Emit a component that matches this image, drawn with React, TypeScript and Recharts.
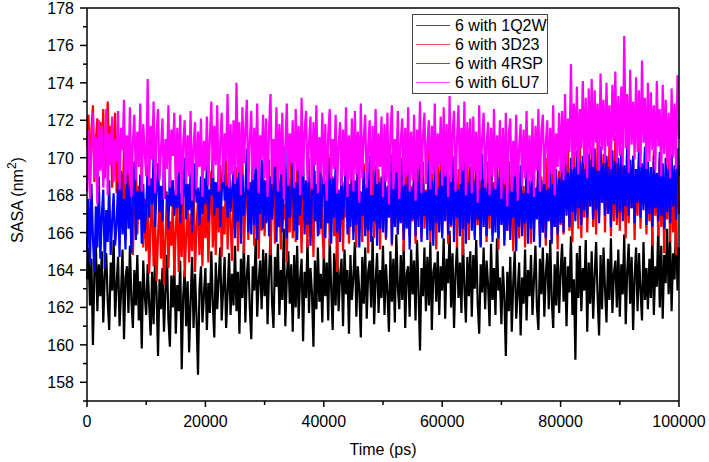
import { LineChart, Line, XAxis, YAxis, ReferenceLine } from "recharts"

// SASA time series, one value every 250 ps (0 .. 100000 ps)
const step = 250

const sasa1Q2W = [
  163.5, 165.2, 162.1, 164.6, 160.0, 163.9, 165.4, 161.8, 164.3, 162.6, 165.0, 161.2, 163.7, 164.9, 162.3, 160.8, 164.4, 162.9, 165.6, 161.5,
  163.2, 164.7, 161.0, 162.8, 165.1, 160.3, 163.6, 164.2, 161.7, 165.3, 162.4, 160.9, 164.0, 162.1, 164.8, 161.3, 163.4, 159.8, 164.5, 162.7,
  161.6, 164.3, 162.2, 160.5, 163.9, 161.1, 164.6, 162.8, 159.4, 163.5, 161.9, 164.1, 160.7, 162.9, 164.8, 161.4, 159.9, 163.7, 162.0, 164.4,
  160.6, 163.2, 161.8, 164.5, 158.7, 162.6, 164.0, 161.0, 163.4, 159.6, 162.3, 164.7, 160.9, 163.8, 161.5, 158.4, 163.0, 164.2, 161.2, 162.7,
  164.1, 160.8, 163.3, 161.7, 165.0, 162.2, 160.4, 164.4, 161.9, 163.6, 165.2, 161.3, 163.0, 164.7, 160.9, 162.8, 164.9, 161.6, 163.8, 162.1,
  165.3, 161.8, 163.9, 160.6, 164.6, 162.5, 165.5, 161.2, 163.7, 164.8, 162.0, 160.3, 164.2, 162.9, 165.7, 161.5, 163.4, 164.5, 161.9, 165.1,
  162.6, 164.9, 161.1, 163.8, 165.9, 162.3, 160.9, 164.7, 163.1, 165.4, 161.6, 164.0, 162.4, 166.2, 161.0, 163.6, 165.0, 162.2, 164.3, 160.7,
  164.8, 162.0, 165.3, 161.4, 163.5, 164.6, 160.2, 163.9, 162.5, 165.6, 161.7, 164.1, 162.8, 159.9, 164.5, 161.9, 165.2, 162.3, 163.8, 161.2,
  165.0, 162.6, 164.4, 161.3, 165.7, 163.0, 160.8, 164.9, 162.1, 165.4, 161.8, 163.7, 164.6, 161.0, 165.1, 162.7, 164.0, 160.6, 164.8, 162.4,
  163.6, 165.5, 161.5, 164.2, 162.9, 160.4, 164.7, 162.2, 165.2, 161.4, 163.9, 164.5, 162.0, 165.8, 161.1, 163.4, 164.9, 161.7, 164.0, 162.5,
  165.3, 161.6, 164.3, 162.8, 160.7, 165.0, 162.3, 164.6, 161.2, 165.9, 163.1, 161.9, 164.8, 162.4, 165.4, 160.9, 163.8, 164.2, 161.5, 165.1,
  162.7, 164.5, 161.3, 165.6, 163.0, 159.7, 164.1, 162.6, 165.2, 161.8, 164.7, 162.1, 165.5, 160.8, 163.9, 164.4, 162.3, 165.0, 161.6, 164.2,
  162.9, 165.7, 161.4, 164.6, 163.3, 166.1, 162.0, 164.9, 160.9, 163.8, 165.3, 162.5, 164.4, 161.7, 165.8, 163.1, 161.2, 164.7, 162.6, 165.0,
  161.5, 164.8, 163.0, 165.6, 162.2, 160.6, 164.3, 162.8, 165.2, 161.9, 164.5, 163.2, 161.0, 165.4, 162.4, 164.1, 161.6, 165.7, 162.9, 163.6,
  161.1, 164.2, 162.5, 159.4, 163.9, 161.8, 164.7, 160.7, 163.3, 165.0, 161.4, 162.8, 164.4, 160.5, 163.6, 162.2, 165.1, 161.3, 164.0, 162.6,
  164.8, 161.6, 163.5, 165.3, 162.0, 160.8, 164.6, 162.7, 165.2, 161.5, 163.8, 164.9, 161.9, 165.6, 162.4, 160.9, 164.3, 162.1, 165.0, 161.7,
  163.9, 165.4, 162.3, 164.7, 161.0, 164.2, 162.8, 165.8, 161.6, 163.5, 159.2, 164.9, 162.5, 165.3, 161.8, 164.1, 162.9, 165.6, 160.7, 164.4,
  162.2, 165.0, 161.4, 163.7, 165.5, 162.6, 160.5, 164.8, 161.9, 165.2, 163.0, 161.2, 164.6, 162.4, 165.7, 161.7, 163.8, 164.5, 162.0, 165.1,
  161.5, 164.3, 162.7, 165.9, 161.1, 163.9, 165.4, 162.2, 164.7, 160.8, 163.6, 165.2, 161.8, 164.9, 162.9, 161.3, 165.5, 162.4, 164.1, 161.9,
  164.6, 162.5, 166.0, 161.6, 164.2, 163.1, 166.4, 162.0, 165.3, 161.4, 164.8, 163.3, 166.2, 162.7, 165.6, 161.8, 164.9, 163.5, 166.7, 162.9,
  165.2,
]

const sasa3D23 = [
  170.6, 172.3, 169.2, 171.5, 172.8, 168.7, 171.0, 172.1, 169.6, 171.9, 170.2, 172.6, 168.9, 171.3, 173.0, 169.8, 171.7, 168.4, 170.9, 172.4,
  168.1, 170.4, 166.5, 169.2, 167.0, 170.8, 165.6, 168.3, 169.5, 166.2, 168.9, 164.8, 167.6, 169.9, 165.9, 168.5, 166.7, 170.1, 165.2, 167.8,
  165.0, 167.6, 163.8, 166.4, 168.0, 164.2, 166.9, 163.4, 165.8, 167.9, 164.6, 167.2, 163.2, 165.7, 168.2, 164.1, 166.6, 165.3, 167.7, 163.7,
  166.1, 168.0, 163.9, 166.9, 164.7, 168.4, 163.6, 165.8, 167.5, 164.4, 167.0, 165.0, 168.6, 163.9, 166.3, 167.8, 164.8, 167.3, 164.2, 168.1,
  165.7, 168.4, 164.4, 167.2, 169.3, 165.2, 167.8, 164.8, 168.6, 166.0, 169.6, 164.7, 167.4, 165.9, 170.0, 165.1, 168.1, 166.4, 164.5, 168.8,
  166.2, 169.5, 165.0, 168.0, 166.8, 170.2, 164.9, 167.5, 169.0, 165.6, 168.4, 166.5, 170.4, 165.3, 167.9, 169.3, 164.6, 168.2, 166.1, 169.7,
  165.8, 168.7, 166.6, 169.9, 164.8, 167.6, 168.9, 165.4, 170.3, 166.3, 168.1, 165.1, 169.4, 166.7, 167.5, 164.4, 168.6, 166.0, 170.1, 165.7,
  168.3, 165.5, 169.6, 166.4, 167.8, 164.9, 169.1, 166.9, 168.0, 165.2, 170.0, 166.1, 168.5, 164.7, 169.3, 166.6, 167.7, 165.9, 169.8, 166.2,
  164.6, 168.8, 166.5, 170.2, 165.3, 167.4, 169.0, 165.8, 168.2, 163.9, 167.9, 166.3, 169.5, 165.0, 168.7, 166.8, 170.5, 165.4, 167.6, 169.2,
  166.0, 168.6, 165.2, 170.4, 166.7, 167.8, 165.5, 169.7, 166.2, 168.3, 164.9, 169.1, 167.0, 170.6, 165.7, 168.0, 166.4, 169.4, 165.1, 168.9,
  166.8, 169.8, 165.6, 168.4, 167.2, 170.3, 165.3, 168.7, 166.5, 169.5, 165.9, 170.0, 166.9, 168.2, 165.0, 169.3, 166.3, 170.7, 165.8, 168.5,
  166.6, 169.0, 165.4, 170.1, 167.1, 168.6, 165.7, 169.8, 166.2, 168.3, 167.4, 170.5, 165.5, 169.2, 166.8, 168.0, 165.1, 169.6, 166.4, 170.2,
  165.9, 168.8, 166.7, 170.8, 165.4, 169.1, 166.3, 168.4, 167.0, 170.0, 165.2, 169.4, 166.6, 168.2, 164.8, 169.7, 166.1, 170.4, 165.6, 168.9,
  167.2, 169.5, 165.8, 168.6, 166.4, 170.3, 165.3, 169.0, 166.9, 168.1, 165.5, 169.8, 166.2, 170.6, 165.9, 168.7, 167.0, 169.3, 165.1, 170.0,
  166.5, 168.9, 165.6, 170.2, 166.1, 168.4, 167.3, 169.6, 165.0, 168.1, 166.8, 170.1, 165.7, 169.2, 166.3, 168.5, 165.2, 169.9, 166.7, 168.3,
  165.4, 169.4, 166.6, 168.2, 167.1, 170.4, 165.8, 169.0, 166.0, 168.7, 165.3, 170.0, 166.9, 168.5, 165.6, 169.7, 166.3, 168.8, 165.1, 169.3,
  166.4, 170.0, 165.9, 169.2, 167.3, 170.7, 166.1, 168.9, 165.5, 170.3, 167.0, 169.5, 166.2, 171.0, 165.7, 169.8, 166.8, 170.4, 166.0, 169.1,
  167.4, 170.6, 166.3, 169.7, 165.9, 171.1, 166.8, 169.3, 167.6, 170.2, 166.0, 169.9, 167.2, 170.8, 165.8, 169.4, 166.6, 171.2, 166.4, 169.6,
  166.1, 170.5, 167.0, 169.1, 165.7, 170.9, 166.5, 169.8, 167.3, 170.1, 165.6, 169.4, 166.9, 170.7, 166.2, 169.0, 167.5, 170.3, 165.9, 169.7,
  166.6, 169.2, 165.3, 170.4, 166.9, 168.8, 165.8, 170.0, 166.3, 169.5, 164.9, 168.6, 166.7, 170.2, 165.5, 169.1, 166.0, 168.4, 164.8, 170.3,
  167.0,
]

const sasa4RSP = [
  165.0, 167.8, 164.3, 168.6, 165.7, 163.9, 167.4, 165.2, 169.0, 164.6, 166.9, 168.3, 164.1, 167.2, 165.5, 168.8, 164.8, 166.6, 168.1, 165.3,
  166.4, 168.7, 164.7, 169.3, 165.9, 167.8, 165.1, 169.5, 166.2, 168.4, 164.9, 167.6, 169.8, 165.6, 168.2, 166.7, 169.1, 165.4, 168.6, 166.0,
  167.3, 169.6, 166.8, 168.9, 167.5, 170.1, 166.3, 168.2, 169.7, 167.1, 168.5, 166.6, 169.9, 167.8, 168.0, 166.2, 169.4, 167.4, 168.8, 166.9,
  168.3, 167.3, 169.5, 166.5, 168.1, 167.9, 170.0, 166.7, 168.6, 167.2, 169.2, 166.0, 167.9, 169.7, 167.6, 168.4, 166.4, 169.0, 167.0, 168.9,
  167.5, 169.6, 166.6, 168.3, 168.0, 170.2, 166.9, 168.7, 167.3, 169.4, 166.3, 168.0, 170.0, 167.7, 168.5, 166.8, 169.8, 167.1, 168.2, 169.3,
  165.7, 168.9, 166.6, 170.3, 165.4, 169.1, 166.9, 168.2, 170.5, 166.0, 168.7, 165.9, 169.6, 166.4, 170.1, 165.6, 168.4, 167.0, 169.9, 166.2,
  168.8, 166.5, 170.4, 165.8, 169.0, 166.7, 168.3, 170.2, 165.5, 168.9, 166.3, 169.7, 166.0, 168.5, 170.6, 165.7, 169.2, 166.8, 168.1, 169.8,
  166.1, 168.7, 165.6, 169.5, 166.9, 168.2, 170.1, 165.9, 168.8, 166.4, 169.3, 165.3, 168.0, 170.0, 166.6, 168.6, 165.8, 169.6, 166.2, 168.4,
  169.1, 165.7, 168.5, 166.5, 170.0, 165.4, 168.9, 166.8, 169.7, 166.0, 168.3, 165.5, 169.4, 166.7, 168.1, 170.2, 165.9, 168.6, 166.3, 169.5,
  165.6, 168.8, 166.4, 169.9, 165.2, 168.2, 166.9, 169.3, 165.8, 168.6, 166.1, 170.1, 165.5, 168.0, 166.6, 169.6, 165.3, 168.7, 166.2, 169.0,
  166.0, 169.4, 165.7, 168.5, 166.8, 170.2, 165.4, 168.9, 166.3, 169.7, 165.9, 168.1, 166.5, 170.0, 165.6, 168.6, 166.2, 169.2, 165.1, 168.4,
  166.7, 169.5, 165.8, 168.7, 166.3, 170.3, 165.5, 169.0, 166.9, 168.2, 165.6, 169.8, 166.1, 168.8, 165.3, 170.0, 166.5, 168.4, 166.0, 169.3,
  165.7, 169.6, 166.6, 170.5, 165.9, 168.9, 166.4, 170.1, 165.5, 169.2, 166.8, 168.3, 165.8, 169.9, 166.2, 170.4, 165.4, 168.7, 166.5, 169.5,
  166.1, 168.8, 165.6, 169.9, 166.7, 168.3, 165.2, 170.2, 166.3, 169.0, 165.8, 168.6, 166.9, 169.7, 165.5, 168.4, 166.0, 170.0, 165.7, 168.9,
  166.4, 169.1, 165.3, 168.5, 166.1, 169.8, 165.6, 168.2, 166.8, 169.4, 165.0, 168.7, 166.3, 169.6, 165.8, 168.1, 166.5, 169.3, 165.4, 168.8,
  166.2, 169.5, 165.5, 168.4, 166.7, 169.9, 165.2, 168.8, 166.0, 169.2, 165.7, 168.3, 166.6, 170.0, 165.4, 168.6, 166.3, 169.4, 165.9, 168.9,
  166.5, 169.7, 166.0, 170.3, 166.9, 169.2, 166.3, 170.0, 167.1, 169.5, 166.6, 170.4, 167.3, 169.8, 166.4, 170.1, 167.2, 169.4, 166.8, 170.2,
  167.4, 169.9, 166.7, 170.5, 167.2, 169.3, 166.5, 170.6, 167.6, 169.7, 166.9, 170.1, 167.0, 169.5, 166.3, 170.4, 167.5, 169.8, 166.8, 170.0,
  167.1, 170.2, 166.6, 169.6, 167.4, 170.5, 166.9, 169.9, 167.3, 170.1, 166.5, 169.4, 167.6, 170.3, 166.8, 169.7, 167.2, 170.6, 166.4, 169.8,
  167.0, 169.5, 166.3, 170.1, 167.3, 169.2, 166.6, 170.3, 166.9, 169.7, 166.2, 170.0, 167.1, 169.4, 166.5, 170.2, 167.4, 169.6, 166.7, 170.5,
  169.0,
]

const sasa6LU7 = [
  168.2, 171.5, 167.8, 170.6, 172.4, 168.9, 171.1, 167.5, 172.0, 169.3, 171.7, 168.4, 170.2, 172.6, 168.0, 171.3, 169.6, 172.2, 168.7, 171.0,
  169.8, 172.5, 168.3, 171.6, 170.4, 173.1, 168.6, 171.2, 169.1, 172.7, 167.9, 170.9, 172.3, 168.8, 171.4, 169.5, 172.9, 168.2, 171.8, 170.3,
  169.0, 174.2, 168.5, 171.7, 169.9, 173.0, 168.1, 171.3, 172.6, 168.8, 170.5, 172.1, 167.8, 171.0, 169.4, 172.8, 168.4, 171.5, 170.1, 172.4,
  168.0, 171.6, 169.2, 172.3, 167.5, 170.8, 172.0, 168.6, 171.2, 169.0, 172.5, 167.7, 170.6, 171.9, 168.3, 171.4, 169.5, 172.1, 167.9, 170.9,
  169.3, 172.2, 168.5, 171.0, 173.0, 168.9, 171.7, 169.6, 172.8, 168.2, 170.7, 172.4, 168.7, 171.3, 169.8, 173.4, 168.4, 171.8, 169.1, 172.0,
  168.6, 174.0, 169.2, 171.9, 168.0, 172.7, 169.7, 171.4, 173.1, 168.3, 170.9, 172.5, 168.8, 171.6, 169.4, 172.9, 168.1, 171.2, 169.9, 172.3,
  168.9, 172.1, 167.9, 171.5, 173.4, 168.6, 171.0, 169.5, 172.7, 168.2, 171.8, 169.1, 172.4, 167.8, 170.6, 172.9, 168.5, 171.3, 169.7, 172.0,
  168.4, 172.6, 169.3, 171.7, 168.0, 173.2, 169.0, 171.4, 172.5, 168.7, 170.8, 172.2, 168.3, 171.9, 169.6, 172.8, 168.1, 171.1, 169.2, 172.4,
  168.6, 171.8, 167.7, 171.3, 172.6, 168.9, 171.0, 169.4, 172.3, 168.1, 170.7, 171.9, 168.5, 171.5, 169.0, 172.7, 167.9, 171.2, 168.8, 172.1,
  168.2, 172.5, 169.1, 171.4, 167.6, 172.9, 168.9, 171.1, 172.3, 168.4, 170.6, 172.0, 168.0, 171.7, 169.3, 172.6, 168.6, 171.3, 169.5, 172.2,
  167.9, 171.8, 168.7, 172.4, 167.5, 171.2, 172.8, 168.3, 171.0, 169.2, 172.5, 167.8, 170.9, 172.1, 168.5, 171.6, 169.0, 172.7, 168.2, 171.4,
  168.8, 172.3, 167.7, 171.5, 169.4, 173.0, 168.1, 171.2, 172.4, 168.6, 170.8, 172.0, 168.3, 171.7, 169.1, 172.9, 168.0, 171.3, 169.6, 172.2,
  168.5, 172.7, 169.0, 171.8, 167.9, 173.3, 168.7, 171.4, 172.5, 168.2, 171.0, 172.8, 168.6, 171.6, 169.3, 173.0, 168.0, 171.9, 169.5, 172.1,
  168.1, 172.2, 169.2, 171.4, 167.6, 172.8, 168.8, 171.1, 172.4, 168.4, 170.7, 171.9, 168.0, 171.6, 169.0, 172.6, 168.3, 171.2, 169.4, 172.0,
  167.8, 171.6, 168.6, 172.4, 167.4, 171.3, 172.1, 168.2, 170.9, 169.0, 172.3, 167.7, 170.6, 171.8, 168.5, 171.5, 168.9, 172.5, 168.1, 171.2,
  168.7, 172.1, 167.9, 171.7, 169.3, 172.6, 168.2, 171.4, 172.3, 168.6, 170.8, 172.0, 168.4, 171.6, 169.1, 172.8, 168.0, 171.3, 169.5, 172.4,
  169.2, 172.5, 168.8, 173.4, 169.6, 172.1, 170.3, 175.0, 169.4, 172.9, 170.0, 173.8, 169.1, 172.6, 170.5, 174.1, 169.7, 173.2, 168.9, 173.7,
  170.2, 174.2, 169.5, 173.6, 170.8, 172.9, 169.3, 174.5, 170.4, 173.1, 169.8, 174.0, 170.6, 172.8, 169.4, 173.9, 170.9, 174.6, 169.7, 173.3,
  170.1, 173.8, 169.6, 176.5, 170.5, 173.4, 169.2, 174.7, 170.7, 173.0, 169.9, 174.3, 170.3, 173.6, 169.5, 175.2, 170.8, 173.2, 169.4, 174.0,
  169.8, 173.5, 170.4, 172.8, 169.3, 174.1, 170.6, 172.6, 169.0, 173.9, 170.2, 173.1, 169.6, 172.4, 168.9, 173.7, 170.0, 172.9, 169.4, 174.4,
  171.0,
]

const series = [
  { key: "s1", name: "6 with 1Q2W", color: "#000000", values: sasa1Q2W },
  { key: "s2", name: "6 with 3D23", color: "#ff0000", values: sasa3D23 },
  { key: "s3", name: "6 with 4RSP", color: "#0000ff", values: sasa4RSP },
  { key: "s4", name: "6 with 6LU7", color: "#ff00ff", values: sasa6LU7 },
]

const xTicks = [0, 10000, 20000, 30000, 40000, 50000, 60000, 70000, 80000, 90000, 100000]
const yTicks = [157, 158, 159, 160, 161, 162, 163, 164, 165, 166, 167, 168, 169, 170, 171, 172, 173, 174, 175, 176, 177, 178]

const data = sasa1Q2W.map((_, i) => {
  const row: Record<string, number> = { t: i * step }
  series.forEach((s) => (row[s.key] = s.values[i]))
  return row
})

const font = "'Liberation Sans', Arial, sans-serif"

function XTick({ x, y, payload }: any) {
  const major = payload.value % 20000 === 0
  return (
    <g>
      <line x1={x} x2={x} y1={y} y2={y + (major ? 6 : 4)} stroke="#000" strokeWidth={1.5} />
      {major && (
        <text x={x} y={y + 26} textAnchor="middle" fontSize={16} fontFamily={font} fill="#000">
          {payload.value}
        </text>
      )}
    </g>
  )
}

function YTick({ x, y, payload }: any) {
  const major = payload.value % 2 === 0
  return (
    <g>
      <line x1={x - (major ? 7 : 4)} x2={x} y1={y} y2={y} stroke="#000" strokeWidth={1.5} />
      {major && (
        <text x={x - 13} y={y + 6} textAnchor="end" fontSize={16} fontFamily={font} fill="#000">
          {payload.value}
        </text>
      )}
    </g>
  )
}

function XLabel({ viewBox }: any) {
  return (
    <text x={viewBox.x + viewBox.width / 2} y={455} textAnchor="middle" fontSize={16} fontFamily={font}>
      Time (ps)
    </text>
  )
}

function YLabel() {
  return (
    <text transform="translate(23,200) rotate(-90)" textAnchor="middle" fontSize={16} fontFamily={font}>
      SASA (nm
      <tspan fontSize={12} dy={-7}>2</tspan>
      <tspan dy={7}>)</tspan>
    </text>
  )
}

function LegendBox() {
  return (
    <div
      style={{
        position: "absolute",
        left: 412,
        top: 14,
        width: 136,
        height: 80,
        border: "1px solid #444",
        background: "#fff",
        fontFamily: font,
        fontSize: 16,
        boxSizing: "border-box",
        padding: "1px 0 0 3px",
        whiteSpace: "nowrap",
      }}
    >
      {series.map((s) => (
        <div key={s.key} style={{ display: "flex", alignItems: "center", height: 19 }}>
          <span style={{ display: "inline-block", width: 34, height: 1, background: s.color, opacity: 0.7 }} />
          <span style={{ marginLeft: 5, lineHeight: "19px" }}>{s.name}</span>
        </div>
      ))}
    </div>
  )
}

export default function App() {
  return (
    <div style={{ position: "absolute", left: 0, top: 0, width: 709, height: 462, background: "#fff" }}>
      <LineChart width={709} height={462} data={data} margin={{ top: 8, right: 30, left: 0, bottom: 0 }}>
        <XAxis
          dataKey="t"
          type="number"
          domain={[0, 100000]}
          ticks={xTicks}
          interval={0}
          tickSize={0}
          tickMargin={0}
          tick={<XTick />}
          height={61}
          axisLine={{ stroke: "#000", strokeWidth: 1.5 }}
          label={{ content: <XLabel /> }}
        />
        <YAxis
          type="number"
          domain={[157, 178]}
          ticks={yTicks}
          interval={0}
          tickSize={0}
          tickMargin={0}
          tick={<YTick />}
          width={87}
          allowDataOverflow
          axisLine={{ stroke: "#000", strokeWidth: 1.5 }}
          label={{ content: <YLabel /> }}
        />
        {series.map((s) => (
          <Line
            key={s.key}
            dataKey={s.key}
            name={s.name}
            stroke={s.color}
            strokeWidth={2.2}
            strokeLinejoin="bevel"
            dot={false}
            isAnimationActive={false}
          />
        ))}
        <ReferenceLine y={178} stroke="#000" strokeWidth={1.5} />
        <ReferenceLine x={100000} stroke="#000" strokeWidth={1.5} />
      </LineChart>
      <LegendBox />
    </div>
  )
}
